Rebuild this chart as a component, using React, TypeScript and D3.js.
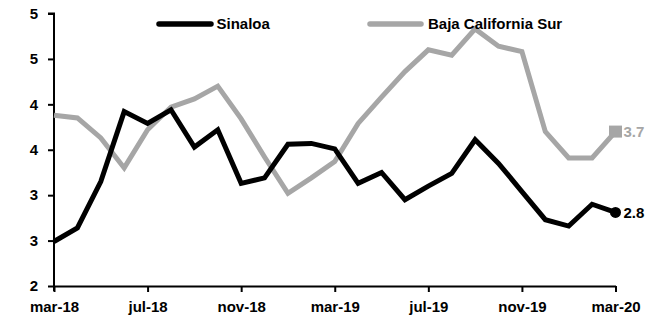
import React, { useEffect, useRef } from "react";
import * as d3 from "d3";

const months = [
  "mar-18", "abr-18", "may-18", "jun-18", "jul-18", "ago-18", "sep-18", "oct-18", "nov-18", "dic-18",
  "ene-19", "feb-19", "mar-19", "abr-19", "may-19", "jun-19", "jul-19", "ago-19", "sep-19", "oct-19",
  "nov-19", "dic-19", "ene-20", "feb-20", "mar-20",
];
const sinaloa = [
  2.49, 2.64, 3.15, 3.92, 3.79, 3.94, 3.53, 3.72, 3.13, 3.19,
  3.56, 3.57, 3.51, 3.13, 3.25, 2.95, 3.1, 3.24, 3.61, 3.35,
  3.04, 2.73, 2.66, 2.9, 2.81,
];
const bajaCaliforniaSur = [
  3.88, 3.85, 3.63, 3.3, 3.72, 3.97, 4.06, 4.2, 3.84, 3.42,
  3.02, 3.19, 3.37, 3.79, 4.08, 4.36, 4.6, 4.54, 4.83, 4.64,
  4.58, 3.7, 3.41, 3.41, 3.7,
];
const seriesNames = ["Sinaloa", "Baja California Sur"];
const yTickValues = [2, 2.5, 3, 3.5, 4, 4.5, 5];
const xTickLabels = ["mar-18", "jul-18", "nov-18", "mar-19", "jul-19", "nov-19", "mar-20"];

const W = 662;
const H = 325;
const BLACK = "#000000";
const GRAY = "#a6a6a6";
const FONT = "'Liberation Sans', Arial, sans-serif";

export default function App() {
  const ref = useRef<SVGSVGElement>(null);

  useEffect(() => {
    const svg = d3.select(ref.current);
    svg.selectAll("*").remove();

    const x = d3.scalePoint<string>().domain(months).range([54, 615.5]);
    const y = d3.scaleLinear().domain([2, 5]).range([286, 13.5]);

    // Y axis
    const yAxis = d3
      .axisLeft(y)
      .tickValues(yTickValues)
      .tickSize(6)
      .tickPadding(10)
      .tickFormat((d) => d3.format(".0f")(d as number));
    const gy = svg.append("g").attr("transform", "translate(54,0)").call(yAxis);
    gy.select(".domain").attr("d", `M-6,${y(5)}H0V291`).attr("stroke", BLACK).attr("stroke-width", 2);
    gy.selectAll(".tick line").attr("stroke", BLACK).attr("stroke-width", 2);
    gy.selectAll(".tick text")
      .attr("fill", BLACK)
      .style("font-family", FONT)
      .style("font-weight", "bold")
      .style("font-size", "15px");

    // X axis
    const xAxis = d3
      .axisBottom(x)
      .tickValues(xTickLabels)
      .tickSize(6)
      .tickSizeOuter(0)
      .tickPadding(9);
    const gx = svg.append("g").attr("transform", "translate(0,286)").call(xAxis);
    gx.select(".domain").attr("stroke", BLACK).attr("stroke-width", 2);
    gx.selectAll(".tick line").attr("stroke", BLACK).attr("stroke-width", 2);
    gx.selectAll(".tick text")
      .attr("fill", BLACK)
      .style("font-family", FONT)
      .style("font-weight", "bold")
      .style("font-size", "15px");

    const line = d3
      .line<number>()
      .x((_, i) => x(months[i]) as number)
      .y((d) => y(d));

    const series = [
      { name: seriesNames[1], values: bajaCaliforniaSur, color: GRAY },
      { name: seriesNames[0], values: sinaloa, color: BLACK },
    ];
    series.forEach((s) => {
      svg
        .append("path")
        .datum(s.values)
        .attr("d", line)
        .attr("fill", "none")
        .attr("stroke", s.color)
        .attr("stroke-width", 5)
        .attr("stroke-linejoin", "miter")
        .attr("stroke-miterlimit", 2);
    });

    // End markers
    const last = months.length - 1;
    const lx = x(months[last]) as number;
    svg
      .append("rect")
      .attr("x", lx - 6.5)
      .attr("y", y(bajaCaliforniaSur[last]) - 6)
      .attr("width", 13)
      .attr("height", 12)
      .attr("fill", GRAY);
    svg
      .append("circle")
      .attr("cx", lx)
      .attr("cy", y(sinaloa[last]))
      .attr("r", 5.5)
      .attr("fill", BLACK);

    const endLabels = [
      { v: bajaCaliforniaSur[last], color: GRAY },
      { v: sinaloa[last], color: BLACK },
    ];
    endLabels.forEach((e) => {
      svg
        .append("text")
        .attr("x", lx + 8)
        .attr("y", y(e.v))
        .attr("dy", "0.35em")
        .attr("fill", e.color)
        .style("font-family", FONT)
        .style("font-weight", "bold")
        .style("font-size", "15px")
        .text(d3.format(".1f")(e.v));
    });

    // Legend
    const legend = [
      { name: seriesNames[0], color: BLACK, x0: 159, x1: 211, tx: 216.5 },
      { name: seriesNames[1], color: GRAY, x0: 370, x1: 421, tx: 428 },
    ];
    legend.forEach((l) => {
      svg
        .append("line")
        .attr("x1", l.x0)
        .attr("x2", l.x1)
        .attr("y1", 24)
        .attr("y2", 24)
        .attr("stroke", l.color)
        .attr("stroke-width", 5.5)
        .attr("stroke-linecap", "round");
      svg
        .append("text")
        .attr("x", l.tx)
        .attr("y", 24)
        .attr("dy", "0.35em")
        .attr("fill", BLACK)
        .style("font-family", FONT)
        .style("font-weight", "bold")
        .style("font-size", "15px")
        .text(l.name);
    });
  }, []);

  return (
    <svg
      ref={ref}
      width={W}
      height={H}
      style={{ position: "absolute", left: 0, top: 0, background: "#fff" }}
    />
  );
}
